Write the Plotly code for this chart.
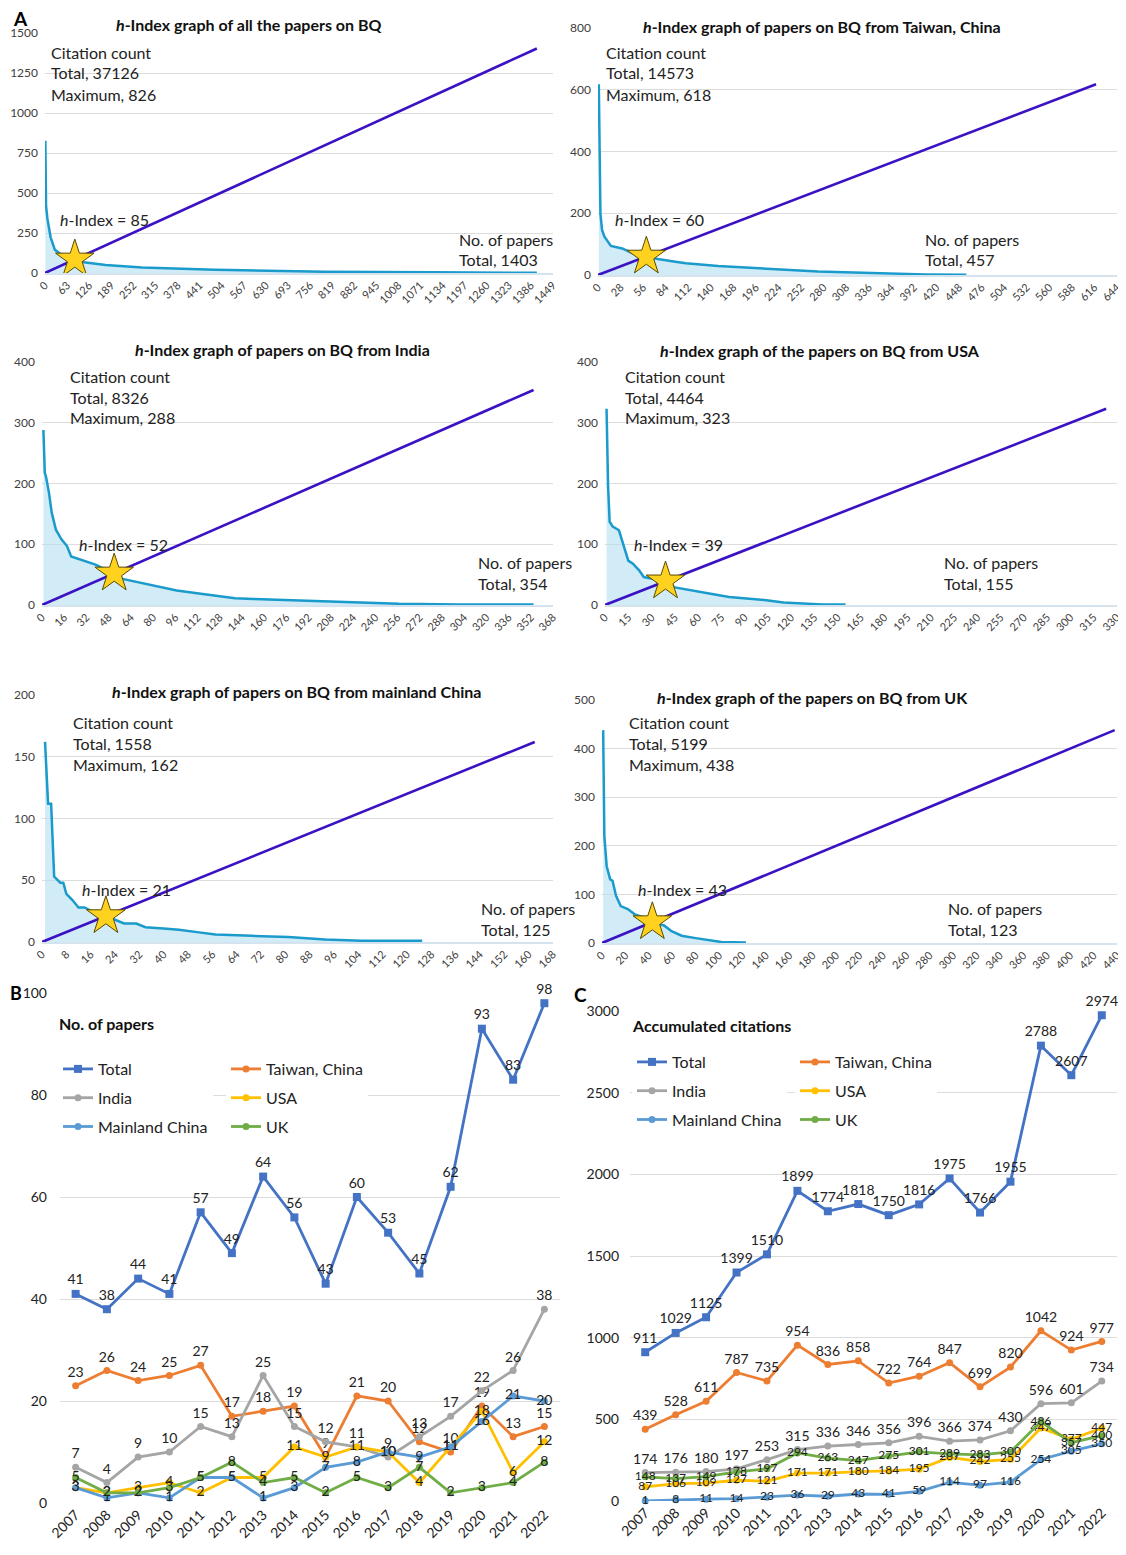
import plotly.graph_objects as go

# page body has an 8px default margin; map reference pixels accordingly
OFF = 8
W, H = 1126 - OFF, 1555 - OFF
FONT = "Lato"

# ---------------- Panel A data (h-index graphs) ----------------
all_rank = [1, 3, 7, 16, 28, 44, 70, 85, 111, 173, 277, 484, 796, 1107, 1403]
all_cites = [826, 420, 338, 223, 146, 119, 98, 85, 67, 50, 35, 21, 8, 4, 1]

tw_rank = [1, 2, 3, 5, 8, 16, 30, 43, 60, 74, 96, 109, 149, 185, 229, 273, 317, 362, 406, 457]
tw_cites = [618, 351, 200, 146, 124, 94, 86, 70, 60, 52, 43, 38, 29, 24, 16, 11, 8, 4, 2, 1]

in_rank = [1, 2, 3, 5, 7, 10, 14, 18, 21, 31, 39, 46, 52, 58, 73, 86, 97, 113, 126, 139, 152, 178, 205, 231, 257, 300, 354]
in_cites = [288, 218, 210, 185, 152, 124, 108, 97, 80, 72, 66, 58, 52, 43, 36, 30, 24, 19, 15, 11, 10, 8, 6, 3, 2, 1, 1]

us_rank = [1, 2, 3, 5, 9, 10, 12, 15, 18, 22, 25, 32, 39, 45, 57, 69, 80, 92, 104, 115, 127, 140, 155]
us_cites = [323, 195, 137, 129, 123, 115, 96, 73, 68, 57, 46, 43, 39, 29, 24, 18, 13, 11, 8, 4, 2, 1, 1]

cn_rank = [1, 2, 3, 4, 6, 7, 8, 10, 12, 14, 17, 21, 25, 27, 31, 34, 40, 45, 51, 57, 69, 81, 93, 105, 125]
cn_cites = [162, 112, 112, 53, 48, 48, 39, 34, 28, 28, 24, 21, 17, 15, 15, 12, 11, 10, 8, 6, 5, 4, 2, 1, 1]

uk_rank = [1, 2, 4, 7, 9, 12, 16, 22, 28, 35, 43, 53, 59, 68, 80, 92, 102, 123]
uk_cites = [438, 220, 158, 131, 128, 97, 76, 70, 59, 53, 43, 36, 25, 15, 10, 5, 2, 1]

h_titles = [
    "<i>h</i>-Index graph of all the papers on BQ",
    "<i>h</i>-Index graph of papers on BQ from Taiwan, China",
    "<i>h</i>-Index graph of papers on BQ from India",
    "<i>h</i>-Index graph of the papers on BQ from USA",
    "<i>h</i>-Index graph of papers on BQ from mainland China",
    "<i>h</i>-Index graph of the papers on BQ from UK",
]
h_index = [85, 60, 52, 39, 21, 43]
cit_total = [37126, 14573, 8326, 4464, 1558, 5199]
cit_max = [826, 618, 288, 323, 162, 438]
paper_total = [1403, 457, 354, 155, 125, 123]
x_step = [63, 28, 16, 15, 8, 20]
x_last = [1449, 644, 368, 330, 168, 440]
y_max = [1500, 800, 400, 400, 200, 500]
y_step = [250, 200, 100, 100, 50, 100]
h_ranks = [all_rank, tw_rank, in_rank, us_rank, cn_rank, uk_rank]
h_cites = [all_cites, tw_cites, in_cites, us_cites, cn_cites, uk_cites]

# ---------------- Panel B / C data ----------------
years = [str(y) for y in range(2007, 2023)]
series_names = ["Total", "Taiwan, China", "India", "USA", "Mainland China", "UK"]
series_colors = ["#4472C4", "#ED7D31", "#A5A5A5", "#FFC000", "#5B9BD5", "#70AD47"]

papers_total = [41, 38, 44, 41, 57, 49, 64, 56, 43, 60, 53, 45, 62, 93, 83, 98]
papers_taiwan = [23, 26, 24, 25, 27, 17, 18, 19, 9, 21, 20, 12, 10, 19, 13, 15]
papers_india = [7, 4, 9, 10, 15, 13, 25, 15, 12, 11, 9, 13, 17, 22, 26, 38]
papers_usa = [3, 2, 3, 4, 2, 5, 5, 11, 9, 11, 10, 4, 11, 18, 6, 12]
papers_mainland = [3, 1, 2, 1, 5, 5, 1, 3, 7, 8, 10, 9, 11, 16, 21, 20]
papers_uk = [5, 2, 2, 3, 5, 8, 4, 5, 2, 5, 3, 7, 2, 3, 4, 8]

cites_total = [911, 1029, 1125, 1399, 1510, 1899, 1774, 1818, 1750, 1816, 1975, 1766, 1955, 2788, 2607, 2974]
cites_taiwan = [439, 528, 611, 787, 735, 954, 836, 858, 722, 764, 847, 699, 820, 1042, 924, 977]
cites_india = [174, 176, 180, 197, 253, 315, 336, 346, 356, 396, 366, 374, 430, 596, 601, 734]
cites_usa = [87, 106, 109, 127, 121, 171, 171, 180, 184, 195, 267, 242, 255, 447, 377, 447]
cites_mainland = [1, 8, 11, 14, 23, 36, 29, 43, 41, 59, 114, 97, 116, 254, 305, 350]
cites_uk = [148, 137, 149, 178, 197, 294, 263, 247, 275, 301, 289, 283, 300, 486, 357, 400]

papers_series = [papers_total, papers_taiwan, papers_india, papers_usa, papers_mainland, papers_uk]
cites_series = [cites_total, cites_taiwan, cites_india, cites_usa, cites_mainland, cites_uk]


def fx(px):
    return (px - OFF) / W


def fy(py):
    return 1 - (py - OFF) / H


# pixel boxes of plot areas (reference pixels): (left, right, top, bottom)
h_boxes = [
    (45, 553, 33, 273),
    (598, 1117, 28, 275),
    (42, 553, 362, 605),
    (605, 1117, 362, 605),
    (42, 553, 695, 942),
    (602, 1117, 700, 943),
]
# title center x, title y, citation block x, y0, hidx x, hidx y, papers x, papers y
h_text = [
    (248, 25, 49, 52, 58, 220, 457, 239),
    (822, 27, 604, 52, 613, 220, 923, 239),
    (282, 349, 68, 376, 77, 544, 476, 562),
    (820, 350, 623, 376, 632, 544, 942, 562),
    (297, 691, 71, 722, 80, 889, 479, 908),
    (812, 697, 627, 722, 636, 889, 946, 908),
]

fig = go.Figure()
annotations = []
layout_axes = {}

for i in range(6):
    n = i + 1
    xa = "x" if n == 1 else f"x{n}"
    ya = "y" if n == 1 else f"y{n}"
    xr, yr = h_ranks[i], h_cites[i]
    fig.add_trace(go.Scatter(
        x=xr, y=yr, mode="lines", xaxis=xa, yaxis=ya,
        line=dict(color="#1A9BCB", width=2.5),
        fill="tozeroy", fillcolor="rgba(178,224,241,0.6)",
        showlegend=False, hoverinfo="skip"))
    end = max(paper_total[i], cit_max[i])
    fig.add_trace(go.Scatter(
        x=[0, end], y=[0, end], mode="lines", xaxis=xa, yaxis=ya,
        line=dict(color="#3A12C4", width=2.6),
        showlegend=False, hoverinfo="skip"))
    fig.add_trace(go.Scatter(
        x=[h_index[i]], y=[h_index[i]], mode="markers", xaxis=xa, yaxis=ya,
        marker=dict(symbol="star", size=29, color="#FFD21F",
                    line=dict(color="#5a4a00", width=1)),
        showlegend=False, hoverinfo="skip"))

    l, r, t, b = h_boxes[i]
    axname_x = "xaxis" if n == 1 else f"xaxis{n}"
    axname_y = "yaxis" if n == 1 else f"yaxis{n}"
    layout_axes[axname_x] = dict(
        domain=[fx(l), fx(r)], anchor=ya, range=[0, x_last[i]],
        tickvals=list(range(0, x_last[i] + 1, x_step[i])),
        tickangle=-45, tickfont=dict(size=11, color="#404040", family=FONT),
        showgrid=False, zeroline=False, showline=True, linecolor="#D5E3EE",
        linewidth=1.5, ticks="", fixedrange=True, automargin=False)
    layout_axes[axname_y] = dict(
        domain=[fy(b), fy(t)], anchor=xa, range=[0, y_max[i]],
        dtick=y_step[i], tickfont=dict(size=12, color="#404040", family=FONT),
        showgrid=True, gridcolor="#DCDCDC", gridwidth=1, zeroline=False,
        showline=False, ticks="", fixedrange=True, automargin=False,
        ticklabelstandoff=6)

    tcx, tty, cbx, cby, hx, hy, px_, py_ = h_text[i]
    annotations.append(dict(
        x=fx(tcx), y=fy(tty), xref="paper", yref="paper", showarrow=False,
        text=f"<b>{h_titles[i]}</b>", xanchor="center", yanchor="middle",
        font=dict(size=16, color="#111", family=FONT)))
    for k, line in enumerate(["Citation count", f"Total, {cit_total[i]}", f"Maximum, {cit_max[i]}"]):
        annotations.append(dict(
            x=fx(cbx), y=fy(cby + k * 21), xref="paper", yref="paper", showarrow=False,
            text=line, xanchor="left", yanchor="middle",
            font=dict(size=16, color="#222", family=FONT)))
    annotations.append(dict(
        x=fx(hx), y=fy(hy), xref="paper", yref="paper", showarrow=False,
        text=f"<i>h</i>-Index = {h_index[i]}", xanchor="left", yanchor="middle",
        font=dict(size=16, color="#222", family=FONT)))
    for k, line in enumerate(["No. of papers", f"Total, {paper_total[i]}"]):
        annotations.append(dict(
            x=fx(px_), y=fy(py_ + k * 21), xref="paper", yref="paper", showarrow=False,
            text=line, xanchor="left", yanchor="middle",
            font=dict(size=16, color="#222", family=FONT)))

# ---------------- Panel B and C ----------------
legend_map = ["legend", "legend2", "legend", "legend2", "legend", "legend2"]
legend_map_c = ["legend3", "legend4", "legend3", "legend4", "legend3", "legend4"]
above = [True, True, True, False, False, False]

for j in range(6):
    sym = "square" if j == 0 else "circle"
    msize = 8 if j == 0 else 7
    fig.add_trace(go.Scatter(
        x=years, y=papers_series[j], xaxis="x7", yaxis="y7",
        mode="lines+markers+text", name=series_names[j],
        text=[str(v) for v in papers_series[j]],
        textposition="top center" if above[j] else "middle center",
        textfont=dict(size=14, color="#222", family=FONT),
        line=dict(color=series_colors[j], width=2.8),
        marker=dict(symbol=sym, size=msize, color=series_colors[j]),
        legend=legend_map[j], legendgroup=f"b{j}", cliponaxis=False))

for j in range(6):
    sym = "square" if j == 0 else "circle"
    msize = 8 if j == 0 else 7
    fig.add_trace(go.Scatter(
        x=years, y=cites_series[j], xaxis="x8", yaxis="y8",
        mode="lines+markers+text", name=series_names[j],
        text=[str(v) for v in cites_series[j]],
        textposition="top center" if above[j] else "middle center",
        textfont=dict(size=14 if above[j] else 12, color="#222", family=FONT),
        line=dict(color=series_colors[j], width=2.8),
        marker=dict(symbol=sym, size=msize, color=series_colors[j]),
        legend=legend_map_c[j], legendgroup=f"c{j}", cliponaxis=False))

layout_axes["xaxis7"] = dict(
    domain=[fx(60), fx(560)], anchor="y7", type="category", range=[-0.5, 15.5],
    tickangle=-45, tickfont=dict(size=14, color="#222", family=FONT),
    showgrid=False, zeroline=False, showline=False, ticks="", fixedrange=True,
    automargin=False)
layout_axes["yaxis7"] = dict(
    domain=[fy(1503), fy(993)], anchor="x7", range=[0, 100], dtick=20,
    tickfont=dict(size=14, color="#222", family=FONT),
    showgrid=True, gridcolor="#DCDCDC", zeroline=False, ticks="", fixedrange=True,
    automargin=False, ticklabelstandoff=12)
layout_axes["xaxis8"] = dict(
    domain=[fx(630), fx(1117)], anchor="y8", type="category", range=[-0.5, 15.5],
    tickangle=-45, tickfont=dict(size=14, color="#222", family=FONT),
    showgrid=False, zeroline=False, showline=False, ticks="", fixedrange=True,
    automargin=False)
layout_axes["yaxis8"] = dict(
    domain=[fy(1501), fy(1011)], anchor="x8", range=[0, 3000], dtick=500,
    tickfont=dict(size=14, color="#222", family=FONT),
    showgrid=True, gridcolor="#DCDCDC", zeroline=False, ticks="", fixedrange=True,
    automargin=False, ticklabelstandoff=10)

leg_common = dict(bgcolor="white", font=dict(size=16, color="#222", family=FONT),
                  traceorder="grouped", tracegroupgap=5, xanchor="left", yanchor="top",
                  itemwidth=30)
annotations += [
    dict(x=fx(57), y=fy(1023), xref="paper", yref="paper", showarrow=False,
         text="<b>No. of papers</b>", xanchor="left", yanchor="middle",
         font=dict(size=16, color="#111", family=FONT)),
    dict(x=fx(630), y=fy(1025), xref="paper", yref="paper", showarrow=False,
         text="<b>Accumulated citations</b>", xanchor="left", yanchor="middle",
         font=dict(size=16, color="#111", family=FONT)),
    dict(x=fx(11), y=fy(19), xref="paper", yref="paper", showarrow=False,
         text="<b>A</b>", xanchor="left", yanchor="middle",
         font=dict(size=19, color="#000", family=FONT)),
    dict(x=fx(8), y=fy(993), xref="paper", yref="paper", showarrow=False,
         text="<b>B</b>", xanchor="left", yanchor="middle",
         font=dict(size=18, color="#000", family=FONT)),
    dict(x=fx(572), y=fy(995), xref="paper", yref="paper", showarrow=False,
         text="<b>C</b>", xanchor="left", yanchor="middle",
         font=dict(size=19, color="#000", family=FONT)),
]

fig.update_layout(
    width=W, height=H, margin=dict(l=0, r=0, t=0, b=0, autoexpand=False),
    paper_bgcolor="white", plot_bgcolor="white",
    font=dict(family=FONT, color="#222"),
    annotations=annotations,
    legend=dict(x=fx(58), y=fy(1052), **leg_common),
    legend2=dict(x=fx(226), y=fy(1052), **leg_common),
    legend3=dict(x=fx(632), y=fy(1045), **leg_common),
    legend4=dict(x=fx(795), y=fy(1045), **leg_common),
    **layout_axes,
)

fig.write_html("out.html")
